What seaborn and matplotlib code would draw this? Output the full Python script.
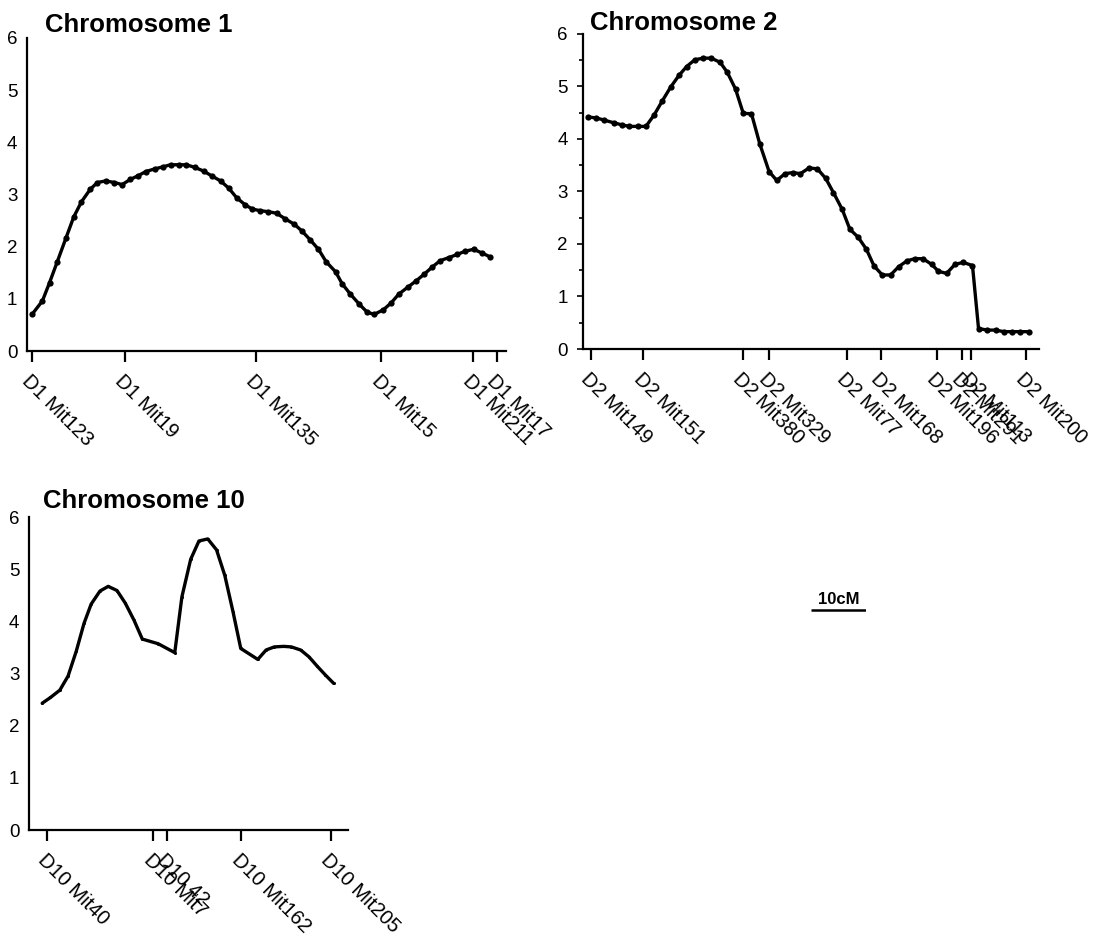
import pandas as pd
import seaborn as sns
from matplotlib import pyplot as plt
from matplotlib.ticker import MultipleLocator

# LOD score traces, positions in cM relative to the first marker
chr1_cm = [0.0, 1.9, 3.2, 4.6, 6.2, 7.6, 9.0, 10.6, 11.9, 13.4, 15.0, 16.4, 17.9, 19.3, 20.7,
           22.3, 23.8, 25.2, 26.7, 28.1, 29.6, 31.2, 32.8, 34.3, 35.8, 37.2, 38.8, 40.1, 41.5,
           43.0, 44.5, 46.1, 47.7, 49.1, 50.6, 52.1, 53.5, 55.2, 56.4, 57.9, 59.5, 60.9, 62.2,
           63.9, 65.3, 66.7, 68.3, 69.8, 71.3, 72.8, 74.2, 75.8, 77.3, 78.7, 80.3, 81.8, 83.2]
chr1_lod = [0.70, 0.96, 1.31, 1.71, 2.17, 2.57, 2.86, 3.10, 3.23, 3.26, 3.23, 3.19, 3.29, 3.36,
            3.44, 3.49, 3.53, 3.57, 3.57, 3.57, 3.52, 3.45, 3.35, 3.26, 3.12, 2.94, 2.80, 2.72,
            2.69, 2.67, 2.64, 2.53, 2.43, 2.30, 2.13, 1.95, 1.71, 1.52, 1.29, 1.09, 0.90, 0.75,
            0.70, 0.79, 0.92, 1.09, 1.22, 1.34, 1.47, 1.61, 1.73, 1.79, 1.85, 1.91, 1.95, 1.88, 1.81]
chr1_markers = [0.0, 16.9, 40.7, 63.5, 80.2, 84.5]
chr1_labels = ["D1 Mit123", "D1 Mit19", "D1 Mit135", "D1 Mit15", "D1 Mit211", "D1 Mit17"]

chr2_cm = [-0.5, 1.0, 2.4, 4.1, 5.6, 7.0, 8.5, 10.0, 11.5, 13.0, 14.5, 16.0, 17.4, 18.9, 20.4,
           21.9, 23.5, 24.8, 26.3, 27.7, 29.2, 30.7, 32.4, 33.8, 35.3, 36.7, 38.1, 39.7, 41.2,
           42.7, 44.1, 45.7, 47.1, 48.6, 50.1, 51.5, 53.0, 54.5, 56.0, 57.5, 58.9, 60.4, 62.0,
           63.2, 64.7, 66.2, 67.7, 69.4, 70.5, 72.1, 73.6, 75.1, 76.5, 78.0, 79.7]
chr2_lod = [4.42, 4.40, 4.36, 4.31, 4.27, 4.24, 4.24, 4.24, 4.46, 4.73, 4.99, 5.21, 5.38, 5.51,
            5.54, 5.54, 5.46, 5.27, 4.95, 4.49, 4.48, 3.91, 3.38, 3.21, 3.34, 3.36, 3.34, 3.45,
            3.43, 3.25, 2.98, 2.66, 2.28, 2.13, 1.90, 1.58, 1.41, 1.41, 1.57, 1.68, 1.72, 1.72,
            1.61, 1.48, 1.44, 1.61, 1.65, 1.59, 0.39, 0.36, 0.36, 0.33, 0.33, 0.33, 0.33]
chr2_markers = [0.0, 9.5, 27.6, 32.4, 46.5, 52.7, 62.9, 67.5, 69.1, 79.1]
chr2_labels = ["D2 Mit149", "D2 Mit151", "D2 Mit380", "D2 Mit329", "D2 Mit77",
               "D2 Mit168", "D2 Mit196", "D2 Mit291", "D2 Mit113", "D2 Mit200"]

chr10_cm = [-0.9, 0.6, 2.3, 3.8, 5.3, 6.7, 8.0, 9.6, 11.1, 12.7, 14.2, 15.8, 17.3, 20.2, 23.2,
            24.5, 26.1, 27.6, 29.2, 30.8, 32.3, 33.8, 35.2, 38.3, 39.8, 41.3, 43.0, 44.4, 46.1,
            47.6, 49.1, 50.6, 52.1]
chr10_lod = [2.43, 2.54, 2.68, 2.95, 3.43, 3.96, 4.33, 4.58, 4.67, 4.59, 4.35, 4.02, 3.66, 3.57,
             3.40, 4.47, 5.19, 5.54, 5.58, 5.37, 4.88, 4.18, 3.48, 3.27, 3.45, 3.51, 3.52, 3.51,
             3.45, 3.32, 3.14, 2.97, 2.81]
chr10_markers = [0.0, 19.3, 21.8, 35.3, 51.6]
chr10_labels = ["D10 Mit40", "D10 Mit7", "D10 42", "D10 Mit162", "D10 Mit205"]

scale_bar_cm = 10

sns.set_style("ticks", {'axes.edgecolor': 'black', 'text.color': 'black',
                        'xtick.color': 'black', 'ytick.color': 'black'})
plt.rcParams['font.family'] = ['Liberation Sans', 'DejaVu Sans']

W, H = 1109, 938
fig = plt.figure(figsize=(W / 100, H / 100), dpi=100)


def px_axes(left, top, right, bottom):
    # axes rectangle given in pixel coords of the output image
    return fig.add_axes([left / W, (H - bottom) / H, (right - left) / W, (bottom - top) / H])


def draw_chrom(ax, cm, lod, markers, labels, xlim, title, title_xy, msize, yticks_visible):
    df = pd.DataFrame({'cM': cm, 'LOD': lod})
    sns.lineplot(data=df, x='cM', y='LOD', ax=ax, color='black', lw=2.4,
                 marker='o', markersize=msize, markeredgewidth=0, markerfacecolor='black')
    ax.set_xlim(*xlim)
    ax.set_ylim(0, 6)
    ax.set_xlabel('')
    ax.set_ylabel('')
    sns.despine(ax=ax)
    for s in ('left', 'bottom'):
        ax.spines[s].set_linewidth(1.6)
    ax.set_xticks(markers)
    ax.set_xticklabels(labels, rotation=-45, ha='left', va='top',
                       rotation_mode='anchor', fontsize=14.5)
    ax.tick_params(axis='x', length=8, width=1.6, pad=7)
    ax.set_yticks(range(7))
    ax.tick_params(axis='y', labelsize=13.5, pad=7,
                   length=4 if yticks_visible else 0, width=1.2)
    if yticks_visible:
        ax.yaxis.set_minor_locator(MultipleLocator(0.5))
        ax.tick_params(axis='y', which='minor', length=3, width=1.2)
    ax.text(title_xy[0], title_xy[1], title, transform=ax.transAxes,
            fontsize=18.5, fontweight='bold', va='baseline', ha='left')


ax1 = px_axes(27, 38, 506, 351)
draw_chrom(ax1, chr1_cm, chr1_lod, chr1_markers, chr1_labels, (-0.9, 86.2),
           "Chromosome 1", (0.038, 1.019), 4.5, False)

ax2 = px_axes(583, 34, 1039, 349)
draw_chrom(ax2, chr2_cm, chr2_lod, chr2_markers, chr2_labels, (-1.45, 81.5),
           "Chromosome 2", (0.015, 1.013), 4.5, True)

ax3 = px_axes(29, 517, 348, 830)
draw_chrom(ax3, chr10_cm, chr10_lod, chr10_markers, chr10_labels, (-3.3, 54.7),
           "Chromosome 10", (0.044, 1.029), 2.2, False)

# 10 cM scale bar, same px per cM as the panels
axs = px_axes(811, 590, 866, 620)
axs.hlines(0, 0, scale_bar_cm, color='black', lw=1.8)
axs.set_xlim(0, scale_bar_cm)
axs.set_ylim(-1, 2)
axs.text(scale_bar_cm / 2, 0.35, f"{scale_bar_cm}cM", ha='center', va='bottom',
         fontsize=12, fontweight='bold')
axs.axis('off')

plt.savefig('out.png', dpi=100, facecolor='white')
